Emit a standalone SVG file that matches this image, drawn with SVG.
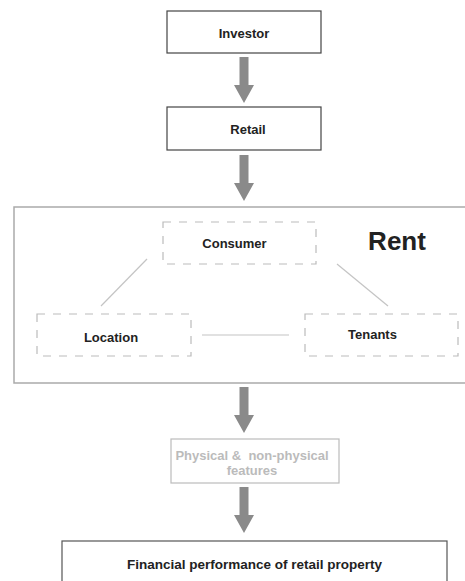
<svg xmlns="http://www.w3.org/2000/svg" width="465" height="581" viewBox="0 0 465 581">
  <style>
    .lbl { font-family: "Liberation Sans", Arial, sans-serif; font-weight: bold; font-size: 13px; fill: #222; text-anchor: middle; }
    .solid { fill: #fff; stroke: #444; stroke-width: 1.2; }
    .dash { fill: none; stroke: #bbb; stroke-width: 1.2; stroke-dasharray: 8 8; }
    .link { stroke: #c4c4c4; stroke-width: 1.2; fill: none; }
    .arrow { fill: #8a8a8a; }
  </style>
  <defs>
    <!-- block arrow pointing down, tip at (0,0) -->
    <path id="blockArrow" d="M-4.5,-46 H4.5 V-18 H10 L0,0 L-10,-18 H-4.5 Z"/>
  </defs>

  <rect width="465" height="581" fill="#fff"/>

  <!-- rent frame -->
  <g id="rent">
    <rect x="14" y="207" width="460" height="176" fill="none" stroke="#aaa" stroke-width="1.5"/>
    <text x="397" y="250" class="lbl" style="font-size:26px">Rent</text>
  </g>

  <!-- connectors -->
  <g id="connectors">
    <use href="#blockArrow" x="244" y="103" class="arrow"/>
    <use href="#blockArrow" x="244" y="201" class="arrow"/>
    <use href="#blockArrow" x="244" y="433" class="arrow"/>
    <use href="#blockArrow" x="244" y="533" class="arrow"/>
    <line class="link" x1="147" y1="259" x2="101" y2="306"/>
    <line class="link" x1="337" y1="264" x2="388" y2="306"/>
    <line class="link" x1="202" y1="335" x2="289" y2="335"/>
  </g>

  <g id="investor">
    <rect class="solid" x="167" y="11" width="154" height="42"/>
    <text class="lbl" x="244" y="38">Investor</text>
  </g>

  <g id="retail">
    <rect class="solid" x="167" y="107" width="154" height="43"/>
    <text class="lbl" x="248" y="134">Retail</text>
  </g>

  <g id="consumer">
    <rect class="dash" x="163" y="222" width="153" height="42"/>
    <text class="lbl" x="234.5" y="248">Consumer</text>
  </g>

  <g id="location">
    <rect class="dash" x="37" y="314" width="154" height="42"/>
    <text class="lbl" x="111" y="342">Location</text>
  </g>

  <g id="tenants">
    <rect class="dash" x="305" y="314" width="153" height="42"/>
    <text class="lbl" x="372.5" y="339">Tenants</text>
  </g>

  <g id="features">
    <rect x="171" y="439" width="168" height="44" fill="#fff" stroke="#bbb" stroke-width="1.2"/>
    <text class="lbl" x="252" y="460" style="fill:#bbb; white-space:pre">Physical &amp;  non-physical</text>
    <text class="lbl" x="252" y="475" style="fill:#bbb">features</text>
  </g>

  <g id="performance">
    <rect x="62" y="541" width="385" height="50" fill="#fff" stroke="#555" stroke-width="1.2"/>
    <text class="lbl" x="254.5" y="569" style="font-size:13.5px">Financial performance of retail property</text>
  </g>
</svg>
